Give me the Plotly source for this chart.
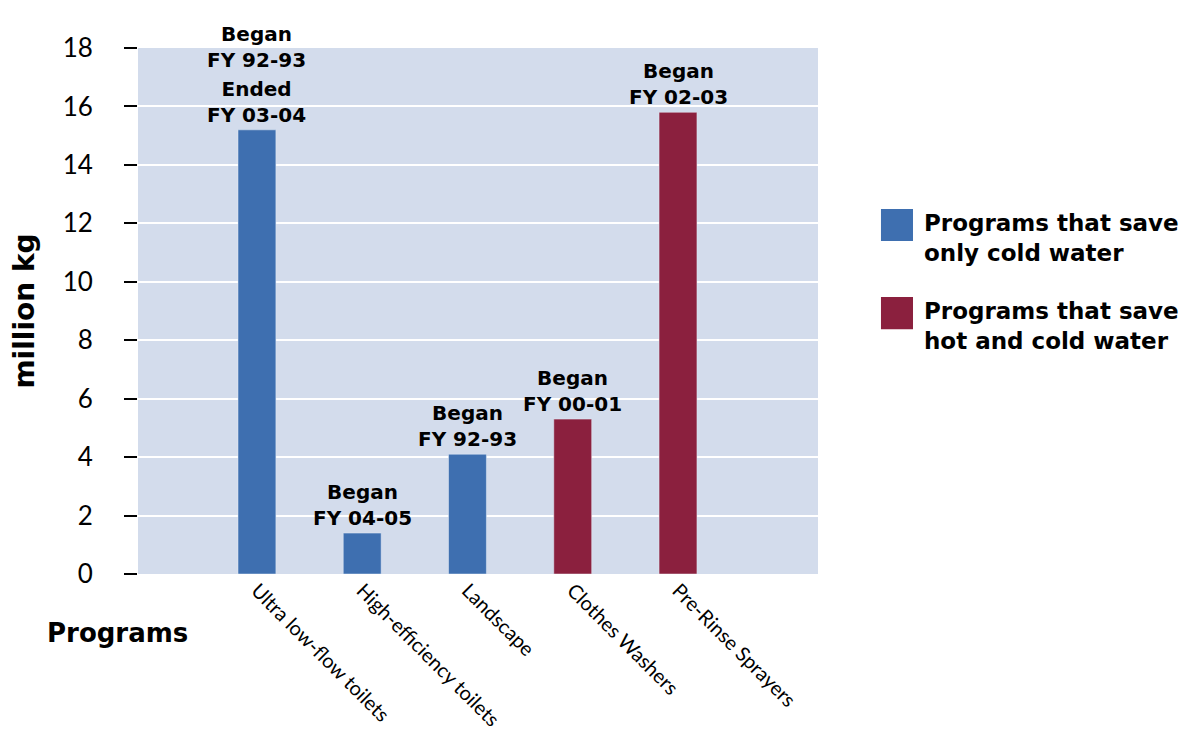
import plotly.graph_objects as go

categories = ["Ultra low-flow toilets", "High-efficiency toilets", "Landscape",
              "Clothes Washers", "Pre-Rinse Sprayers"]
values = [15.2, 1.4, 4.1, 5.3, 15.8]
groups = ["cold", "cold", "cold", "hot", "hot"]
bar_labels = ["Ended<br>FY 03-04", "Began<br>FY 04-05", "Began<br>FY 92-93",
              "Began<br>FY 00-01", "Began<br>FY 02-03"]
extra_label = {"Ultra low-flow toilets": "Began<br>FY 92-93"}
legend_names = {"cold": "Programs that save<br>only cold water",
                "hot": "Programs that save<br>hot and cold water"}
colors = {"cold": "#3E6FB0", "hot": "#8B203E"}
y_ticks = [0, 2, 4, 6, 8, 10, 12, 14, 16, 18]

BOLD = "DejaVu Sans"
REG = "Lato"

fig = go.Figure()
for g in ["cold", "hot"]:
    xs = [c for c, gg in zip(categories, groups) if gg == g]
    ys = [v for v, gg in zip(values, groups) if gg == g]
    fig.add_trace(go.Bar(x=xs, y=ys, name=legend_names[g], marker_color=colors[g],
                         width=0.36, showlegend=False))

annotations = []
for c, v, t in zip(categories, values, bar_labels):
    annotations.append(dict(x=c, y=v, text="<b>" + t + "</b>", showarrow=False,
                            yanchor="bottom", yshift=1,
                            font=dict(family=BOLD, size=20, color="black")))
for c, t in extra_label.items():
    v = values[categories.index(c)]
    annotations.append(dict(x=c, y=v, text="<b>" + t + "</b>", showarrow=False,
                            yanchor="bottom", yshift=56,
                            font=dict(family=BOLD, size=20, color="black")))

annotations.append(dict(xref="paper", yref="paper", x=-0.137, y=-0.112,
                        xanchor="left", yanchor="middle", showarrow=False,
                        text="<b>Programs</b>",
                        font=dict(family=BOLD, size=26, color="black")))

# manual legend
shapes = []
leg_y = [0.6635, 0.496]
for g, yy in zip(["cold", "hot"], leg_y):
    shapes.append(dict(type="rect", xref="paper", yref="paper",
                       x0=1.0926, x1=1.1397, y0=yy - 0.0305, y1=yy + 0.0305,
                       fillcolor=colors[g], line=dict(width=0)))
    annotations.append(dict(xref="paper", yref="paper", x=1.153, y=yy + 0.033,
                            xanchor="left", yanchor="top", align="left",
                            showarrow=False, text="<b>" + legend_names[g] + "</b>",
                            font=dict(family=BOLD, size=23, color="black")))

fig.update_layout(
    width=1196, height=747,
    margin=dict(l=130, r=386, t=40, b=181),
    paper_bgcolor="white", plot_bgcolor="#D3DCEC",
    barmode="overlay",
    annotations=annotations, shapes=shapes,
    font=dict(family=REG, color="black"),
    xaxis=dict(type="category", categoryorder="array", categoryarray=categories,
               range=[-1.13, 5.33], tickangle=45, showgrid=False,
               tickfont=dict(family=REG, size=20, color="black"),
               ticks="", showline=False, zeroline=False),
    yaxis=dict(range=[0, 18], tickvals=y_ticks, showgrid=True, gridcolor="white",
               gridwidth=2, ticks="outside", ticklen=13, tickwidth=2,
               tickcolor="black", ticklabelstandoff=26,
               tickfont=dict(family=REG, size=26, color="black"),
               zeroline=False, showline=False,
               title=dict(text="<b>million kg</b>", standoff=22,
                          font=dict(family=BOLD, size=28, color="black"))),
)

fig.write_html("out.html")
